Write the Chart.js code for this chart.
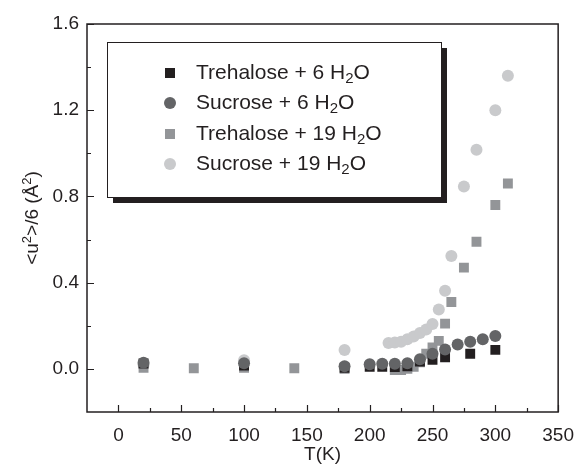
<!DOCTYPE html>
<html><head><meta charset="utf-8">
<script src="https://cdn.jsdelivr.net/npm/chart.js@4/dist/chart.umd.min.js"></script>
<style>html,body{margin:0;padding:0;background:#fff}#wrap{width:586px;height:469px;position:relative}</style>
</head><body><div id="wrap"><canvas id="c"></canvas></div>
<script>
const xTicks=[0,50,100,150,200,250,300,350];
const xMinor=[25,75,125,175,225,275,325];
const yTicks=[0.0,0.4,0.8,1.2,1.6];
const yMinor=[0.2,0.6,1.0,1.4];

const seriesNames=['Trehalose + 6 H','Sucrose + 6 H','Trehalose + 19 H','Sucrose + 19 H'];

const tre6T=[20,100,180,200,210,220,230,240,250,260,280,300];
const tre6V=[0.025,0.015,0.005,0.01,0.01,0.008,0.012,0.034,0.042,0.054,0.07,0.088];
const suc6T=[20,100,180,200,210,220,230,240,250,260,270,280,290,300];
const suc6V=[0.028,0.026,0.012,0.022,0.024,0.024,0.026,0.045,0.07,0.09,0.113,0.126,0.138,0.153];
const tre19T=[20,60,100,140,180,220,225,230,235,240,245,250,255,260,265,275,285,300,310];
const tre19V=[0.005,0.003,0.005,0.003,0.0,-0.005,-0.005,0.0,0.01,0.03,0.07,0.10,0.13,0.21,0.31,0.47,0.59,0.76,0.86];
const suc19T=[20,100,180,215,220,225,230,235,240,245,250,255,260,265,275,285,300,310];
const suc19V=[0.018,0.04,0.088,0.12,0.122,0.126,0.137,0.15,0.167,0.183,0.208,0.276,0.362,0.524,0.846,1.017,1.2,1.36];

const C_BLACK='#231f20', C_DARK='#636466', C_MID='#939598', C_LIGHT='#c9cacc';
const FONT='"Liberation Sans", Arial, Helvetica, sans-serif';

function pts(t,v){return t.map((x,i)=>({x:x,y:v[i]}));}

const legendItems=[
  {name:seriesNames[0],style:'rect',color:C_BLACK},
  {name:seriesNames[1],style:'circle',color:C_DARK},
  {name:seriesNames[2],style:'rect',color:C_MID},
  {name:seriesNames[3],style:'circle',color:C_LIGHT}
];

const decor={
  id:'decor',
  afterDatasetsDraw(chart){
    const ctx=chart.ctx, a=chart.chartArea, xs=chart.scales.x, ys=chart.scales.y;
    ctx.save();
    ctx.strokeStyle=C_BLACK; ctx.lineWidth=1.5;
    ctx.strokeRect(a.left,a.top,a.right-a.left,a.bottom-a.top);
    ctx.lineWidth=1.2;
    ctx.beginPath();
    xTicks.forEach(v=>{const p=Math.round(xs.getPixelForValue(v))+0.5;ctx.moveTo(p,a.bottom);ctx.lineTo(p,a.bottom-7);});
    xMinor.forEach(v=>{const p=Math.round(xs.getPixelForValue(v))+0.5;ctx.moveTo(p,a.bottom);ctx.lineTo(p,a.bottom-4);});
    yTicks.forEach(v=>{const p=Math.round(ys.getPixelForValue(v))+0.5;ctx.moveTo(a.left,p);ctx.lineTo(a.left+7,p);});
    yMinor.forEach(v=>{const p=Math.round(ys.getPixelForValue(v))+0.5;ctx.moveTo(a.left,p);ctx.lineTo(a.left+4,p);});
    ctx.stroke();

    // legend box with shadow
    const L=107,T=42,R=441,B=197,sh=6;
    ctx.fillStyle=C_BLACK;
    ctx.fillRect(L+sh,T+sh,R-L,B-T);
    ctx.fillStyle='#fff';
    ctx.fillRect(L,T,R-L,B-T);
    ctx.lineWidth=1;
    ctx.strokeStyle=C_BLACK;
    ctx.strokeRect(L+0.5,T+0.5,R-L,B-T);
    const rows=[73,103,134,164];
    legendItems.forEach((it,i)=>{
      const y=rows[i];
      ctx.fillStyle=it.color;
      if(it.style==='rect'){ctx.fillRect(165,y-5,10,10);}
      else{ctx.beginPath();ctx.arc(170,y,6,0,Math.PI*2);ctx.fill();}
      ctx.fillStyle=C_BLACK;
      ctx.textBaseline='middle';ctx.textAlign='left';
      ctx.font='21px '+FONT;
      let x=196;
      ctx.fillText(it.name,x,y);
      x+=ctx.measureText(it.name).width;
      ctx.font='15px '+FONT;
      ctx.fillText('2',x,y+6);
      x+=ctx.measureText('2').width;
      ctx.font='21px '+FONT;
      ctx.fillText('O',x,y);
    });

    // x title
    ctx.fillStyle=C_BLACK;
    ctx.font='19px '+FONT;
    ctx.textAlign='center';ctx.textBaseline='alphabetic';
    ctx.fillText('T(K)',(a.left+a.right)/2,460);

    // y title (rotated) with superscripts
    ctx.save();
    ctx.translate(32,(a.top+a.bottom)/2);
    ctx.rotate(-Math.PI/2);
    const parts=[['<u',0],['2',1],['>/6 (Å',0],['2',1],[')',0]];
    let w=0;
    parts.forEach(p=>{ctx.font=(p[1]?'13px ':'19px ')+FONT;w+=ctx.measureText(p[0]).width;});
    let px=-w/2;
    ctx.textAlign='left';
    parts.forEach(p=>{ctx.font=(p[1]?'13px ':'19px ')+FONT;ctx.fillText(p[0],px,p[1]?-1:6);px+=ctx.measureText(p[0]).width;});
    ctx.restore();
    ctx.restore();
  }
};

new Chart(document.getElementById('c'),{
  type:'scatter',
  data:{datasets:[
    {label:'Sucrose + 6 H2O',data:pts(suc6T,suc6V),pointStyle:'circle',pointRadius:6,backgroundColor:C_DARK,borderWidth:0},
    {label:'Trehalose + 6 H2O',data:pts(tre6T,tre6V),pointStyle:'rect',pointRadius:7,backgroundColor:C_BLACK,borderWidth:0},
    {label:'Trehalose + 19 H2O',data:pts(tre19T,tre19V),pointStyle:'rect',pointRadius:7,backgroundColor:C_MID,borderWidth:0},
    {label:'Sucrose + 19 H2O',data:pts(suc19T,suc19V),pointStyle:'circle',pointRadius:6,backgroundColor:C_LIGHT,borderWidth:0}
  ]},
  options:{
    responsive:true,maintainAspectRatio:false,animation:false,
    layout:{padding:{left:0,right:22,top:24,bottom:0}},
    plugins:{legend:{display:false},tooltip:{enabled:false}},
    scales:{
      x:{type:'linear',min:-25,max:350,
        afterBuildTicks:s=>{s.ticks=xTicks.map(v=>({value:v}));},
        afterFit:s=>{s.height=57;},
        grid:{display:false,drawTicks:false},border:{display:false},
        ticks:{padding:12,color:C_BLACK,font:{family:FONT,size:19},maxRotation:0,callback:v=>String(v)}},
      y:{type:'linear',min:-0.2,max:1.6,
        afterBuildTicks:s=>{s.ticks=yTicks.map(v=>({value:v}));},
        afterFit:s=>{s.width=87;},
        grid:{display:false,drawTicks:false},border:{display:false},
        ticks:{padding:8,color:C_BLACK,font:{family:FONT,size:19},callback:v=>Number(v).toFixed(1)}}
    }
  },
  plugins:[decor]
});
</script></body></html>
